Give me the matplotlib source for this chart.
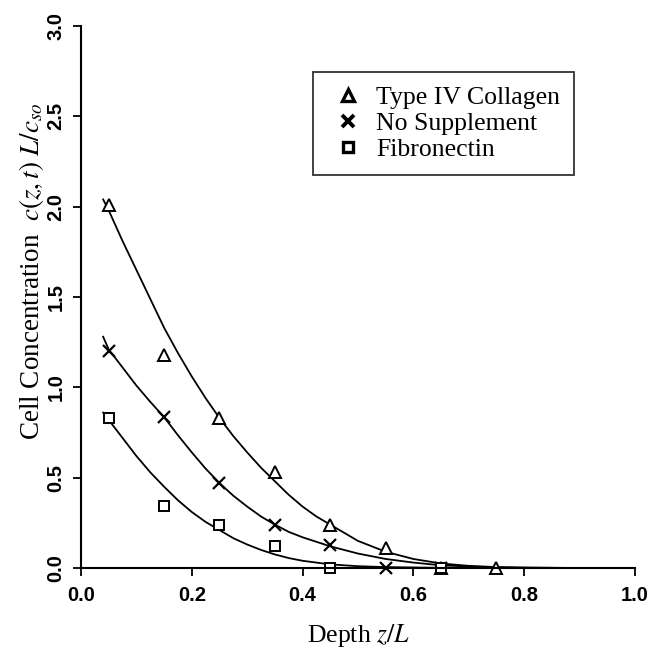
import matplotlib
matplotlib.use("Agg")
import matplotlib.pyplot as plt
from matplotlib.lines import Line2D

# measured points
depth_pts = [0.05, 0.15, 0.25, 0.35, 0.45, 0.55, 0.65, 0.75]
collagen = [2.01, 1.18, 0.83, 0.53, 0.24, 0.11, 0.00, 0.00]
depth_pts_ns = [0.05, 0.15, 0.25, 0.35, 0.45, 0.55, 0.65]
no_supp = [1.20, 0.835, 0.47, 0.24, 0.125, 0.00, 0.00]
depth_pts_fn = [0.05, 0.15, 0.25, 0.35, 0.45, 0.65]
fibronectin = [0.83, 0.345, 0.24, 0.12, 0.00, 0.00]

# model curves
curve_z = [0.04, 0.05, 0.075, 0.10, 0.125, 0.15, 0.175, 0.20, 0.225, 0.25,
           0.275, 0.30, 0.325, 0.35, 0.375, 0.40, 0.425, 0.45, 0.50, 0.55,
           0.60, 0.65, 0.70, 0.75, 0.80, 0.90, 1.00]
curve_collagen = [2.04, 1.98, 1.81, 1.65, 1.49, 1.33, 1.19, 1.06, 0.94, 0.83,
                  0.73, 0.64, 0.555, 0.48, 0.405, 0.34, 0.285, 0.24, 0.15, 0.09,
                  0.05, 0.025, 0.012, 0.005, 0.002, 0.0, 0.0]
curve_no_supp = [1.28, 1.21, 1.11, 1.01, 0.92, 0.835, 0.735, 0.64, 0.55, 0.47,
                 0.40, 0.34, 0.285, 0.24, 0.20, 0.17, 0.145, 0.12, 0.08, 0.05,
                 0.03, 0.015, 0.008, 0.004, 0.002, 0.0, 0.0]
curve_fibro = [0.86, 0.82, 0.72, 0.62, 0.53, 0.45, 0.375, 0.31, 0.255, 0.21,
               0.165, 0.13, 0.10, 0.075, 0.055, 0.04, 0.03, 0.02, 0.01, 0.005,
               0.003, 0.001, 0.0, 0.0, 0.0, 0.0, 0.0]

xticks = [0.0, 0.2, 0.4, 0.6, 0.8, 1.0]
yticks = [0.0, 0.5, 1.0, 1.5, 2.0, 2.5, 3.0]

plt.rcParams['font.family'] = ['Liberation Serif', 'DejaVu Serif']
plt.rcParams['mathtext.fontset'] = 'stix'

fig = plt.figure(figsize=(6.67, 6.49), dpi=100)
ax = fig.add_axes([0.1214, 0.1248, 0.8306, 0.8352])

# fitted curves
ax.plot(curve_z, curve_collagen, color="black", lw=1.3)
ax.plot(curve_z, curve_no_supp, color="black", lw=1.3)
ax.plot(curve_z, curve_fibro, color="black", lw=1.3)

# data markers
ax.plot(depth_pts, collagen, ls="none", marker="^", ms=8, mfc="white",
        mec="black", mew=1.4, clip_on=False)
ax.plot(depth_pts_ns, no_supp, ls="none", marker="x", ms=8, color="black",
        mew=1.6, clip_on=False)
ax.plot(depth_pts_fn, fibronectin, ls="none", marker="s", ms=7.5, mfc="white",
        mec="black", mew=1.4, clip_on=False)

ax.set_xlim(0, 1.0)
ax.set_ylim(0, 3.0)
ax.spines["top"].set_visible(False)
ax.spines["right"].set_visible(False)
ax.spines["left"].set_linewidth(1.5)
ax.spines["bottom"].set_linewidth(1.5)

ax.set_xticks(xticks)
ax.set_yticks(yticks)
ax.set_xticklabels(["%.1f" % v for v in xticks], fontfamily="Liberation Sans",
                   fontweight="bold", fontsize=14.5)
ax.set_yticklabels(["%.1f" % v for v in yticks], fontfamily="Liberation Sans",
                   fontweight="bold", fontsize=14.5, rotation=90, va="center")
ax.tick_params(direction="out", length=6, width=1.3, pad=7)
ax.tick_params(axis="y", pad=5)

ax.set_xlabel("Depth $z/L$", fontsize=18.5, labelpad=12)
ax.set_ylabel("Cell Concentration  $c(z,t)\\ L/c_{so}$", fontsize=19.5)
ax.yaxis.set_label_coords(-0.064, 0.548)

# legend
handles = [
    Line2D([], [], ls="none", marker="^", ms=8, mfc="white", mec="black", mew=2.4),
    Line2D([], [], ls="none", marker="x", ms=8, color="black", mew=2.8),
    Line2D([], [], ls="none", marker="s", ms=7.5, mfc="white", mec="black", mew=2.4),
]
leg = ax.legend(handles, ["Type IV Collagen", "No Supplement", "Fibronectin"],
                loc="upper left", bbox_to_anchor=(0.419, 0.915), fontsize=18.5,
                frameon=True, fancybox=False, edgecolor="black",
                handlelength=1.6, handletextpad=0.3, labelspacing=0.12,
                borderpad=0.55, borderaxespad=0)
leg.get_frame().set_linewidth(1.3)

fig.savefig("out.png", dpi=100)
